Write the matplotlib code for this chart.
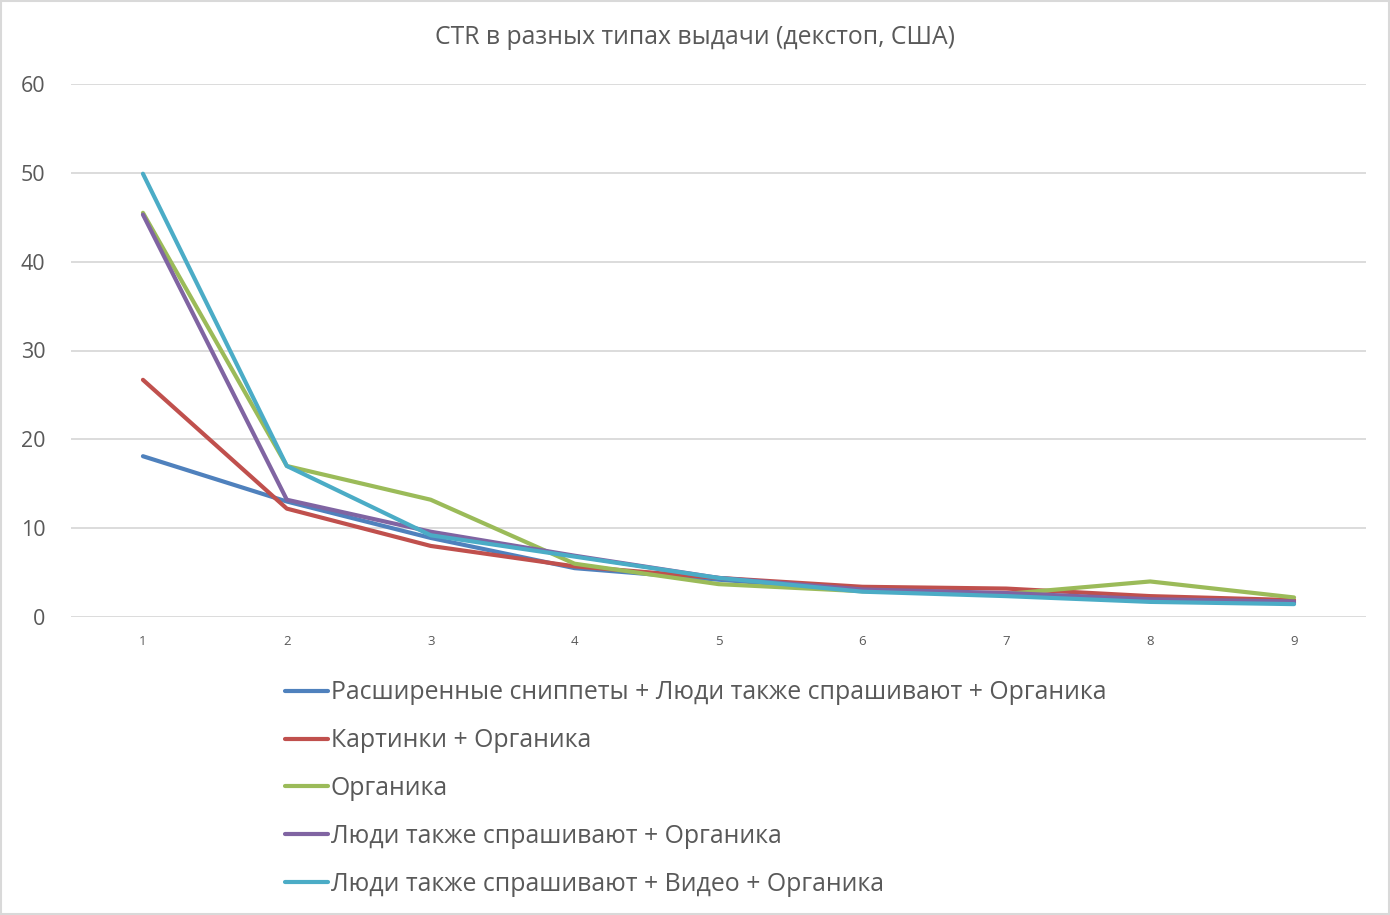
import matplotlib
matplotlib.use("Agg")
import matplotlib.pyplot as plt
from matplotlib.patches import Rectangle

positions = [1, 2, 3, 4, 5, 6, 7, 8, 9]
series_names = [
    "Расширенные сниппеты + Люди также спрашивают + Органика",
    "Картинки + Органика",
    "Органика",
    "Люди также спрашивают + Органика",
    "Люди также спрашивают + Видео + Органика",
]
rich_paa = [18.1, 13.0, 8.9, 5.5, 4.2, 3.0, 2.5, 1.9, 1.6]
images = [26.7, 12.2, 8.0, 5.7, 4.4, 3.4, 3.2, 2.35, 1.9]
organic = [45.5, 17.0, 13.2, 6.0, 3.7, 2.9, 2.6, 4.0, 2.2]
paa = [45.3, 13.2, 9.6, 6.9, 4.4, 3.1, 2.7, 2.0, 1.75]
paa_video = [49.9, 17.0, 9.2, 6.8, 4.4, 2.85, 2.35, 1.7, 1.45]
colors = ["#4F81BD", "#C0504D", "#9BBB59", "#8064A2", "#4BACC6"]
y_ticks = [0, 10, 20, 30, 40, 50, 60]
title = "CTR в разных типах выдачи (декстоп, США)"

plt.rcParams['font.family'] = ['Open Sans', 'DejaVu Sans']

W, H = 1390, 915
fig = plt.figure(figsize=(W / 100, H / 100), dpi=100)
ax = fig.add_axes([71 / W, 1 - 617 / H, (1366 - 71) / W, (617 - 84) / H])

handles = []
for vals, name, c in zip([rich_paa, images, organic, paa, paa_video], series_names, colors):
    h, = ax.plot(positions, vals, color=c, lw=3.0, solid_capstyle='round',
                 solid_joinstyle='round', label=name)
    handles.append(h)

ax.set_xlim(0.5, 9.5)
ax.set_ylim(0, 60)
ax.set_yticks(y_ticks)
ax.set_xticks(positions)
ax.set_xticklabels([str(p) for p in positions])
ax.grid(axis='y', color='#D9D9D9', lw=1.3)
ax.set_axisbelow(True)
for s in ax.spines.values():
    s.set_visible(False)
ax.tick_params(axis='both', length=0, colors='#595959')
ax.tick_params(axis='y', labelsize=15.5, pad=18.5)
ax.tick_params(axis='x', labelsize=9.5, pad=13)

fig.text(0.5, 1 - 38 / H, title, ha='center', va='center', fontsize=17.8, color='#595959')

leg = fig.legend(handles=handles, loc='upper left',
                 bbox_to_anchor=(273 / W, 1 - 668 / H), frameon=False,
                 fontsize=17.9, handlelength=1.72, handletextpad=0.1,
                 labelspacing=0.92, borderpad=0, labelcolor='#595959')

fig.patches.append(Rectangle((1 / W, 1 / H), 1 - 2 / W, 1 - 2 / H, transform=fig.transFigure,
                             fill=False, edgecolor='#D9D9D9', lw=1.5))

fig.savefig("out.png", dpi=100, facecolor='white')
